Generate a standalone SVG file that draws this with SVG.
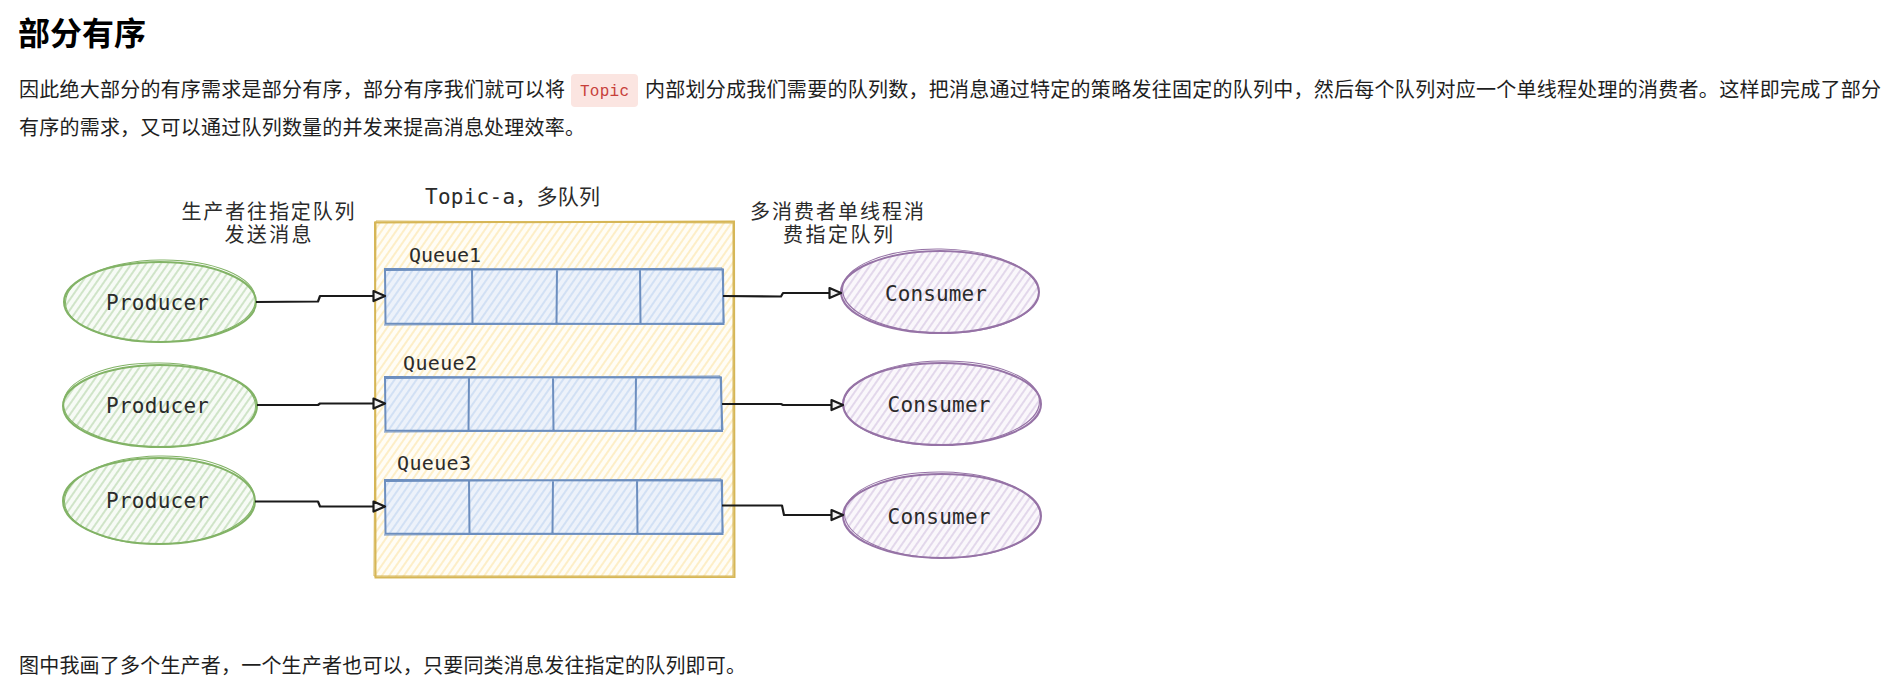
<svg xmlns="http://www.w3.org/2000/svg" width="1896" height="683" viewBox="0 0 1896 683">
  <defs>
    <style>
      .body { font-family: "Noto Sans CJK SC", "Noto Sans", sans-serif; font-size: 20px; fill: #1e1e1e; }
      .title { font-family: "Noto Sans CJK SC", "Noto Sans", sans-serif; font-size: 32px; font-weight: 700; fill: #000; }
      .code { font-family: "Liberation Mono", "DejaVu Sans Mono", monospace; font-size: 16px; fill: #c7403a; }
      .mono { font-family: "DejaVu Sans Mono", "Noto Sans CJK SC", monospace; fill: #2b2b2b; }
      .cjk { font-family: "Noto Sans CJK SC", sans-serif; font-size: 20px; fill: #2b2b2b; }
      .green { stroke: #82b366; fill: none; }
      .purple { stroke: #9673a6; fill: none; }
      .yellow { stroke: #d6b656; fill: none; }
      .blue { stroke: #6c8ebf; fill: none; }
      .edge { stroke: #1a1a1a; stroke-width: 2.2; fill: none; stroke-linejoin: round; }
    </style>
    <pattern id="hatchGreen" width="6" height="6" patternUnits="userSpaceOnUse" patternTransform="rotate(35)">
      <rect width="6" height="6" fill="#f7fbf6"/>
      <line x1="1" y1="0" x2="1" y2="6" stroke="#c6dfbd" stroke-width="1.6"/>
    </pattern>
    <pattern id="hatchPurple" width="6" height="6" patternUnits="userSpaceOnUse" patternTransform="rotate(35)">
      <rect width="6" height="6" fill="#faf7fb"/>
      <line x1="1" y1="0" x2="1" y2="6" stroke="#ddd0e7" stroke-width="1.6"/>
    </pattern>
    <pattern id="hatchYellow" width="6" height="6" patternUnits="userSpaceOnUse" patternTransform="rotate(35)">
      <rect width="6" height="6" fill="#fffdf6"/>
      <line x1="1" y1="0" x2="1" y2="6" stroke="#fdebbb" stroke-width="1.6"/>
    </pattern>
    <pattern id="hatchBlue" width="6" height="6" patternUnits="userSpaceOnUse" patternTransform="rotate(35)">
      <rect width="6" height="6" fill="#edf2fa"/>
      <line x1="1" y1="0" x2="1" y2="6" stroke="#cbdcf3" stroke-width="1.6"/>
    </pattern>
    <marker id="arrowOpen" markerWidth="16" markerHeight="14" refX="13" refY="7" orient="auto" markerUnits="userSpaceOnUse">
      <path d="M1.5,2 L13,7 L1.5,12 Z" fill="#f2f2f2" stroke="#1a1a1a" stroke-width="2.2" stroke-linejoin="round"/>
    </marker>
  </defs>

  <rect width="1896" height="683" fill="#ffffff"/>

  <!-- article text -->
  <g id="article">
    <text class="title" x="18" y="45">部分有序</text>
    <text class="body" x="19" y="97" textLength="546" lengthAdjust="spacing">因此绝大部分的有序需求是部分有序，部分有序我们就可以将</text>
    <g id="code-topic">
      <rect x="571" y="74" width="67" height="33" rx="4" fill="#fbe5e1"/>
      <text class="code" x="604.5" y="96" text-anchor="middle" textLength="49" lengthAdjust="spacing">Topic</text>
    </g>
    <text class="body" x="645" y="97" textLength="1236" lengthAdjust="spacing">内部划分成我们需要的队列数，把消息通过特定的策略发往固定的队列中，然后每个队列对应一个单线程处理的消费者。这样即完成了部分</text>
    <text class="body" x="19" y="135" textLength="566" lengthAdjust="spacing">有序的需求，又可以通过队列数量的并发来提高消息处理效率。</text>
    <text class="body" x="19" y="673" textLength="727" lengthAdjust="spacing">图中我画了多个生产者，一个生产者也可以，只要同类消息发往指定的队列即可。</text>
  </g>

  <!-- free labels above the diagram -->
  <g id="label-producers">
    <text class="cjk" x="268" y="218.5" text-anchor="middle" textLength="173" lengthAdjust="spacing">生产者往指定队列</text>
    <text class="cjk" x="268" y="241.5" text-anchor="middle" textLength="87" lengthAdjust="spacing">发送消息</text>
  </g>
  <g id="label-consumers">
    <text class="cjk" x="837" y="218.5" text-anchor="middle" textLength="174" lengthAdjust="spacing">多消费者单线程消</text>
    <text class="cjk" x="838" y="241.5" text-anchor="middle" textLength="110" lengthAdjust="spacing">费指定队列</text>
  </g>

  <!-- topic container -->
  <g id="topic-a">
    <rect x="375" y="222" width="359" height="355" fill="url(#hatchYellow)"/>
    <path class="yellow" stroke-width="2" d="M375,222.5 L734,221.5 L734.5,577 L375.5,577.5 Z"/>
    <path class="yellow" stroke-width="1" d="M376,221 L733,223 L733,576 L374,576 Z"/>
    <text class="mono" x="425" y="203.5" font-size="21" textLength="175" lengthAdjust="spacing">Topic-a，多队列</text>
  </g>

  <!-- queues -->
  <g id="queue1">
    <text class="mono" x="409" y="262" font-size="20" textLength="72" lengthAdjust="spacing">Queue1</text>
    <rect x="385" y="269" width="338" height="55" fill="url(#hatchBlue)"/>
    <path class="blue" stroke-width="2" d="M385,269 L723,269.5 L723.5,324 L385.5,323.5 Z M472,269 L472.5,324 M557,269 L556.5,324 M640,269 L640.5,324"/>
    <path class="blue" stroke-width="1" d="M386,270.5 L722,268 L724,323 L384,325"/>
  </g>
  <g id="queue2">
    <text class="mono" x="403" y="370" font-size="20" textLength="74" lengthAdjust="spacing">Queue2</text>
    <rect x="385" y="377" width="337" height="54" fill="url(#hatchBlue)"/>
    <path class="blue" stroke-width="2" d="M385,377 L721,377.5 L722,431 L385.5,430.5 Z M469,377 L468.5,431 M553,377 L553.5,431 M636,377 L635.5,431"/>
    <path class="blue" stroke-width="1" d="M386,378.5 L720,376 L723,430 L384,432"/>
  </g>
  <g id="queue3">
    <text class="mono" x="397" y="470" font-size="20" textLength="74" lengthAdjust="spacing">Queue3</text>
    <rect x="385" y="480" width="337" height="54" fill="url(#hatchBlue)"/>
    <path class="blue" stroke-width="2" d="M385,480 L722,480.5 L722.5,534 L385.5,533.5 Z M469,480 L469.5,534 M553,480 L552.5,534 M637,480 L637.5,534"/>
    <path class="blue" stroke-width="1" d="M386,481.5 L721,479 L723,533 L384,535"/>
  </g>

  <!-- producers -->
  <g id="producer1">
    <ellipse cx="160" cy="302" rx="96" ry="40" fill="url(#hatchGreen)"/>
    <ellipse class="green" cx="160" cy="302" rx="96" ry="40" stroke-width="2"/>
    <ellipse class="green" cx="160.5" cy="301" rx="95" ry="41" stroke-width="1" transform="rotate(-1 160 302)"/>
    <text class="mono" x="157.5" y="310" font-size="21" text-anchor="middle" textLength="103" lengthAdjust="spacing">Producer</text>
  </g>
  <g id="producer2">
    <ellipse cx="160" cy="406" rx="97" ry="41" fill="url(#hatchGreen)"/>
    <ellipse class="green" cx="160" cy="406" rx="97" ry="41" stroke-width="2"/>
    <ellipse class="green" cx="159.5" cy="405" rx="96" ry="42" stroke-width="1" transform="rotate(1 160 406)"/>
    <text class="mono" x="157.5" y="413" font-size="21" text-anchor="middle" textLength="103" lengthAdjust="spacing">Producer</text>
  </g>
  <g id="producer3">
    <ellipse cx="159" cy="501" rx="96" ry="43" fill="url(#hatchGreen)"/>
    <ellipse class="green" cx="159" cy="501" rx="96" ry="43" stroke-width="2"/>
    <ellipse class="green" cx="159.5" cy="500" rx="95" ry="44" stroke-width="1" transform="rotate(-1 159 501)"/>
    <text class="mono" x="157.5" y="508" font-size="21" text-anchor="middle" textLength="103" lengthAdjust="spacing">Producer</text>
  </g>

  <!-- consumers -->
  <g id="consumer1">
    <ellipse cx="940" cy="292" rx="99" ry="41" fill="url(#hatchPurple)"/>
    <ellipse class="purple" cx="940" cy="292" rx="99" ry="41" stroke-width="2"/>
    <ellipse class="purple" cx="940.5" cy="291" rx="98" ry="42" stroke-width="1" transform="rotate(1 940 292)"/>
    <text class="mono" x="936" y="301" font-size="21" text-anchor="middle" textLength="102" lengthAdjust="spacing">Consumer</text>
  </g>
  <g id="consumer2">
    <ellipse cx="942" cy="404" rx="99" ry="41" fill="url(#hatchPurple)"/>
    <ellipse class="purple" cx="942" cy="404" rx="99" ry="41" stroke-width="2"/>
    <ellipse class="purple" cx="941.5" cy="403" rx="98" ry="42" stroke-width="1" transform="rotate(-1 942 404)"/>
    <text class="mono" x="939" y="412" font-size="21" text-anchor="middle" textLength="103" lengthAdjust="spacing">Consumer</text>
  </g>
  <g id="consumer3">
    <ellipse cx="942" cy="516" rx="99" ry="42" fill="url(#hatchPurple)"/>
    <ellipse class="purple" cx="942" cy="516" rx="99" ry="42" stroke-width="2"/>
    <ellipse class="purple" cx="942.5" cy="515" rx="98" ry="43" stroke-width="1" transform="rotate(1 942 516)"/>
    <text class="mono" x="939" y="524" font-size="21" text-anchor="middle" textLength="103" lengthAdjust="spacing">Consumer</text>
  </g>

  <!-- connectors -->
  <g id="connectors">
    <path class="edge" marker-end="url(#arrowOpen)" d="M256,302 L318,301.5 L320,296 L385,296"/>
    <path class="edge" marker-end="url(#arrowOpen)" d="M723,296 L781,296.5 L783,293 L841,293"/>
    <path class="edge" marker-end="url(#arrowOpen)" d="M257,405 L318,405 L320,403.5 L385,403.5"/>
    <path class="edge" marker-end="url(#arrowOpen)" d="M722,404 L781,404 L783,405 L843,405"/>
    <path class="edge" marker-end="url(#arrowOpen)" d="M255,501.5 L318,501.5 L320,506.5 L385,506.5"/>
    <path class="edge" marker-end="url(#arrowOpen)" d="M722,505.5 L782,505.5 L784,515 L843,515"/>
  </g>
</svg>
